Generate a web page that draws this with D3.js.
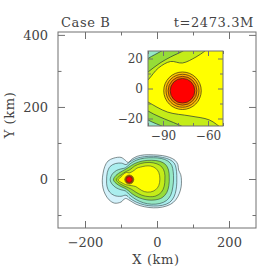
<!DOCTYPE html>
<html>
<head>
<meta charset="utf-8">
<script src="https://cdn.jsdelivr.net/npm/d3@7"></script>
<style>
  body { margin: 0; background: #fff; }
  text { font-family: "DejaVu Serif", serif; fill: #444; }
</style>
</head>
<body>
<svg width="270" height="270"></svg>
<script>
// labels
var caseName = "Case B",
    timeLabel = "t=2473.3M";

// contour outlines, in km (outer level first)
var level0 = [[-152,-5],[-150,15],[-145,35],[-136,50],[-120,58],[-100,60],[-88,52],[-80,46],[-70,55],[-55,63],[-35,67],[-10,67],[15,65],[35,60],[50,52],[58,40],[60,25],[66,12],[68,-5],[67,-22],[62,-40],[52,-58],[38,-70],[15,-78],[-10,-80],[-35,-77],[-58,-70],[-75,-60],[-88,-54],[-100,-64],[-118,-67],[-133,-58],[-144,-42],[-150,-25]];
var level1 = [[-140,-3],[-138,18],[-130,35],[-115,43],[-98,44],[-86,40],[-75,48],[-58,57],[-35,62],[-10,63],[15,60],[35,54],[48,44],[53,30],[55,10],[55,-10],[53,-30],[47,-50],[35,-65],[15,-73],[-10,-75],[-35,-72],[-58,-64],[-75,-54],[-86,-45],[-100,-48],[-118,-46],[-132,-36],[-139,-20]];
var level2 = [[-130,-2],[-124,14],[-112,24],[-100,28],[-88,31],[-75,42],[-58,52],[-35,58],[-10,59],[12,57],[30,50],[41,38],[45,20],[46,0],[44,-22],[38,-45],[26,-60],[8,-68],[-15,-70],[-38,-66],[-58,-57],[-75,-45],[-88,-33],[-100,-30],[-114,-24],[-125,-14]];
var level3 = [[-121,-2],[-114,10],[-100,20],[-91,25],[-78,33],[-62,43],[-40,50],[-15,52],[8,49],[24,40],[32,25],[34,5],[33,-18],[27,-38],[14,-52],[-5,-58],[-28,-58],[-50,-52],[-68,-42],[-80,-32],[-89,-26],[-100,-21],[-114,-12]];
var level4 = [[-113,-2],[-107,6],[-100,11],[-92,17],[-85,21],[-75,26],[-62,36],[-45,43],[-22,46],[0,42],[14,33],[21,18],[22,0],[20,-20],[12,-37],[-3,-47],[-22,-49],[-42,-45],[-58,-37],[-70,-29],[-80,-24],[-92,-19],[-100,-15],[-108,-9]];
var level5 = [[-108,-2],[-100,5.7],[-93,13.7],[-85,18],[-77,17],[-68,21],[-62,25],[-56,30],[-46,33],[-32,36],[-18,36],[-4,30],[5,18],[8,0],[5,-18],[-4,-30],[-18,-36],[-35,-35],[-50,-27],[-59,-21],[-72,-18.3],[-87,-15.7],[-100,-9],[-105,-6]];
var levels = [level0, level1, level2, level3, level4, level5];
var levelColors = ["#d4f2fb", "#aaeeee", "#96e8c4", "#96dc38", "#c4ec18", "#ffff00"];

// the star: centre (km) and ring radii (km)
var starCenter = [-77, -1.5];
var starRadii = [12.5, 11, 9.6, 8.2];
var starColors = ["#ffc800", "#ffaa00", "#f07c00", "#ff0000"];

// ticks
var xMajor = [-200, 0, 200], xMinor = [-100, 100];
var yMajor = [0, 200, 400], yMinor = [-100, 100, 300];
var insetXMajor = [-90, -60], insetXMinor = [-100, -80, -70, -50];
var insetYMajor = [-20, 0, 20], insetYMinor = [-10, 10];

var svg = d3.select("svg");

var x = d3.scaleLinear().domain([-275, 275]).range([58, 256]),
    y = d3.scaleLinear().domain([-136, 408]).range([228, 32]);

var ix = d3.scaleLinear().domain([-100, -50]).range([148, 223]),
    iy = d3.scaleLinear().domain([-25, 25]).range([126, 51]);

function drawField(g, sx, sy, lw) {
  var line = d3.line()
      .x(function(d) { return sx(d[0]); })
      .y(function(d) { return sy(d[1]); })
      .curve(d3.curveCatmullRomClosed.alpha(0.5));

  g.selectAll("path.level")
    .data(levels)
    .enter().append("path")
      .attr("class", "level")
      .attr("d", line)
      .attr("fill", function(d, i) { return levelColors[i]; })
      .attr("stroke", "#243434")
      .attr("stroke-width", lw);

  g.selectAll("circle.star")
    .data(starRadii)
    .enter().append("circle")
      .attr("class", "star")
      .attr("cx", sx(starCenter[0]))
      .attr("cy", sy(starCenter[1]))
      .attr("r", function(d) { return Math.abs(sx(starCenter[0] + d) - sx(starCenter[0])); })
      .attr("fill", function(d, i) { return starColors[i]; })
      .attr("stroke", "#3a2a10")
      .attr("stroke-width", lw);
}

// main panel
var main = svg.append("g");
drawField(main, x, y, 0.55);

function frame(g, sx, sy, xa, xb, ya, yb, big, small, pad, fs) {
  var x0 = sx.range()[0], x1 = sx.range()[1],
      y0 = sy.range()[0], y1 = sy.range()[1];

  var axes = [
    [d3.axisBottom, "translate(0," + y0 + ")", sx, xa, xb, true],
    [d3.axisTop, "translate(0," + y1 + ")", sx, xa, xb, false],
    [d3.axisLeft, "translate(" + x0 + ",0)", sy, ya, yb, true],
    [d3.axisRight, "translate(" + x1 + ",0)", sy, ya, yb, false]
  ];

  axes.forEach(function(a) {
    var major = g.append("g").attr("transform", a[1])
        .call(a[0](a[2]).tickValues(a[3]).tickSize(-big).tickPadding(pad)
          .tickFormat(a[5] ? null : function() { return ""; }));
    var minor = g.append("g").attr("transform", a[1])
        .call(a[0](a[2]).tickValues(a[4]).tickSize(-small).tickFormat(function() { return ""; }));
    [major, minor].forEach(function(s) {
      s.select(".domain").remove();
      s.selectAll("line").attr("stroke", "#707070");
      s.selectAll("text").attr("fill", "#444").style("font-size", fs + "px")
        .style("font-family", "DejaVu Serif, serif");
    });
  });

  g.append("rect")
      .attr("x", x0).attr("y", y1)
      .attr("width", x1 - x0).attr("height", y0 - y1)
      .attr("fill", "none")
      .attr("stroke", "#707070")
      .attr("stroke-width", 1);
}

frame(svg.append("g"), x, y, xMajor, xMinor, yMajor, yMinor, 7, 3.5, 10, 13);

// inset zoom on the star
var clip = svg.append("clipPath").attr("id", "insetClip");
clip.append("rect")
    .attr("x", 148).attr("y", 51)
    .attr("width", 75).attr("height", 75);

var inset = svg.append("g").attr("clip-path", "url(#insetClip)");
inset.append("rect")
    .attr("x", 148).attr("y", 51)
    .attr("width", 75).attr("height", 75)
    .attr("fill", levelColors[1]);
drawField(inset, ix, iy, 0.7);

frame(svg.append("g"), ix, iy, insetXMajor, insetXMinor, insetYMajor, insetYMinor, 5, 3, 5, 12);

// titles
svg.append("text")
    .attr("x", 61).attr("y", 27)
    .style("font-size", "13px")
    .style("letter-spacing", "0.6px")
    .text(caseName);

svg.append("text")
    .attr("x", 254).attr("y", 27)
    .attr("text-anchor", "end")
    .style("font-size", "13px")
    .style("letter-spacing", "0.6px")
    .text(timeLabel);

svg.append("text")
    .attr("x", 156).attr("y", 264)
    .attr("text-anchor", "middle")
    .style("font-size", "13px")
    .style("letter-spacing", "0.6px")
    .text("X (km)");

svg.append("text")
    .attr("transform", "translate(14,115) rotate(-90)")
    .attr("text-anchor", "middle")
    .style("font-size", "13px")
    .style("letter-spacing", "0.6px")
    .text("Y (km)");
</script>
</body>
</html>
